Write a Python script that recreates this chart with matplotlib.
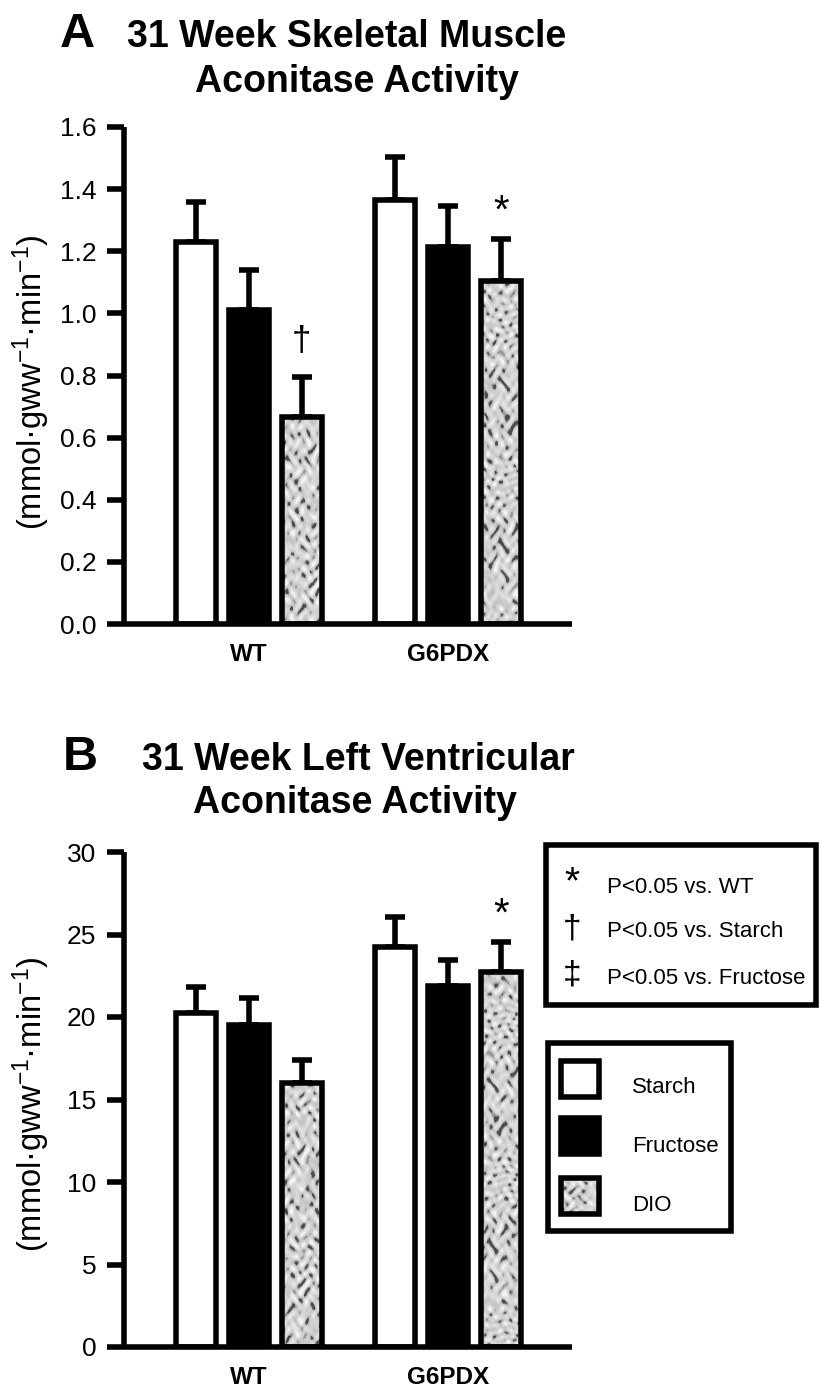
import numpy as np
import matplotlib
matplotlib.use("Agg")
import matplotlib.pyplot as plt
from matplotlib.patches import Rectangle

plt.rcParams['font.family'] = ['Liberation Sans', 'DejaVu Sans']
plt.rcParams['mathtext.fontset'] = 'custom'
plt.rcParams['mathtext.rm'] = 'Liberation Sans'
plt.rcParams['mathtext.it'] = 'Liberation Sans:italic'
plt.rcParams['mathtext.bf'] = 'Liberation Sans:bold'

# ---------------- data ----------------
genotypes = ['WT', 'G6PDX']
diets = ['Starch', 'Fructose', 'DIO']

# Panel A: skeletal muscle aconitase activity
skm_starch = [1.23, 1.365]
skm_fructose = [1.01, 1.215]
skm_dio = [0.665, 1.105]
skm_starch_sem = [0.13, 0.14]
skm_fructose_sem = [0.13, 0.13]
skm_dio_sem = [0.13, 0.135]
skm_yticks = [0.0, 0.2, 0.4, 0.6, 0.8, 1.0, 1.2, 1.4, 1.6]
skm_marks = [('DIO', 'WT', '\u2020'), ('DIO', 'G6PDX', '*')]

# Panel B: left ventricular aconitase activity
lv_starch = [20.25, 24.25]
lv_fructose = [19.5, 21.9]
lv_dio = [16.0, 22.75]
lv_starch_sem = [1.55, 1.8]
lv_fructose_sem = [1.65, 1.55]
lv_dio_sem = [1.4, 1.8]
lv_yticks = [0, 5, 10, 15, 20, 25, 30]
lv_marks = [('DIO', 'G6PDX', '*')]

sig_symbols = ['*', '\u2020', '\u2021']
sig_texts = ['P<0.05 vs. WT', 'P<0.05 vs. Starch', 'P<0.05 vs. Fructose']

ylabel = '(mmol\u00b7gww$^{-1}$\u00b7min$^{-1}$)'

# ---------------- style ----------------
W_PX, H_PX = 821, 1391
LW = 4.0
BAR_W = 0.2
OFFS = [-0.265, 0.0, 0.265]
FACES = ['white', 'black', None]


def texture(h, w, phase=0.0):
    yy, xx = np.mgrid[0:h, 0:w].astype(float)
    xx = xx + phase
    yy = yy + 1.7 * phase
    v = (np.sin(0.61 * xx + 2.3 * np.sin(0.29 * yy + 0.4 * np.sin(0.13 * xx))) +
         np.sin(0.53 * yy + 2.1 * np.sin(0.37 * xx + 0.5 * np.cos(0.17 * yy))) +
         0.8 * np.sin(0.23 * xx * np.cos(0.05 * yy) + 0.41 * yy + 1.8 * np.sin(0.19 * xx)))
    g = 0.82 + 0.05 * v
    g = np.where(v < -1.3, 0.60, g)
    g = np.where(v < -1.9, 0.30, g)
    g = np.where(v > 1.9, 0.95, g)
    return np.clip(g, 0, 1)


def fig_rect(px, py0, px1, py1):
    # pixel box (top-left origin) -> figure fraction [l, b, w, h]
    return [px / W_PX, 1 - py1 / H_PX, (px1 - px) / W_PX, (py1 - py0) / H_PX]


fig = plt.figure(figsize=(W_PX / 100, H_PX / 100), dpi=100)
axA = fig.add_axes(fig_rect(124, 127, 572, 624))
axB = fig.add_axes(fig_rect(124, 852, 572, 1347))


def draw_panel(ax, means, sems, yticks, fmt, marks, phase):
    ymax = yticks[-1]
    xg = np.arange(len(genotypes))
    for i, (m, s) in enumerate(zip(means, sems)):
        x = xg + OFFS[i]
        ax.errorbar(x, m, yerr=[np.zeros(len(m)), s], fmt='none', ecolor='black',
                    elinewidth=LW, capsize=7.5, capthick=LW, zorder=1.8)
        if FACES[i] is not None:
            ax.bar(x, m, BAR_W, color=FACES[i], edgecolor='black', linewidth=LW, zorder=2)
        else:
            bars = ax.bar(x, m, BAR_W, facecolor='none', edgecolor='black',
                          linewidth=LW, zorder=2.1)
            for j, b in enumerate(bars):
                img = texture(400, 40, phase + 37 * j)
                im = ax.imshow(img, extent=(b.get_x(), b.get_x() + b.get_width(), 0, ymax),
                               aspect='auto', cmap='gray', vmin=0, vmax=1,
                               interpolation='bilinear', zorder=1.9)
                im.set_clip_path(b)
    for diet, geno, sym in marks:
        i = diets.index(diet)
        g = genotypes.index(geno)
        top = means[i][g] + sems[i][g]
        if sym == '\u2020':
            off, fs = 19, 25
        else:
            off, fs = 12, 29
        ax.annotate(sym, xy=(g + OFFS[i], top), xytext=(0, off), textcoords='offset points',
                    ha='center', va='baseline', fontsize=fs)
    ax.set_xlim(-0.628, 1.622)
    ax.set_ylim(0, ymax)
    ax.set_yticks(yticks)
    ax.set_yticklabels([fmt.format(t) for t in yticks])
    ax.set_xticks(xg)
    ax.set_xticklabels(genotypes, fontweight='bold', fontsize=17.5)
    ax.tick_params(axis='x', length=0, pad=14)
    ax.tick_params(axis='y', length=12, width=LW, pad=8, labelsize=19)
    for sp in ['top', 'right']:
        ax.spines[sp].set_visible(False)
    for sp in ['left', 'bottom']:
        ax.spines[sp].set_linewidth(LW)
        ax.spines[sp].set_capstyle('butt')
    ax.set_facecolor('none')


draw_panel(axA, [skm_starch, skm_fructose, skm_dio],
           [skm_starch_sem, skm_fructose_sem, skm_dio_sem], skm_yticks, '{:.1f}', skm_marks, 0)
draw_panel(axB, [lv_starch, lv_fructose, lv_dio],
           [lv_starch_sem, lv_fructose_sem, lv_dio_sem], lv_yticks, '{:d}', lv_marks, 11)

# ---------------- overlay (titles, labels, legends) in pixel coordinates ----------------
lax = fig.add_axes([0, 0, 1, 1])
lax.set_xlim(0, W_PX)
lax.set_ylim(H_PX, 0)
lax.axis('off')

# panel letters and titles
lax.text(60, 47, 'A', fontsize=35, fontweight='bold', ha='left', va='baseline')
lax.text(347, 47, '31 Week Skeletal Muscle', fontsize=27, fontweight='bold', ha='center', va='baseline')
lax.text(357, 92, 'Aconitase Activity', fontsize=27, fontweight='bold', ha='center', va='baseline')
lax.text(63, 770, 'B', fontsize=35, fontweight='bold', ha='left', va='baseline')
lax.text(358, 770, '31 Week Left Ventricular', fontsize=27, fontweight='bold', ha='center', va='baseline')
lax.text(355, 813, 'Aconitase Activity', fontsize=27, fontweight='bold', ha='center', va='baseline')

# y labels
lax.text(31, 382, ylabel, rotation=90, fontsize=23.5, ha='center', va='center')
lax.text(31, 1104, ylabel, rotation=90, fontsize=23.5, ha='center', va='center')

# significance legend box
lax.add_patch(Rectangle((545.5, 844.5), 270, 160, facecolor='white', edgecolor='black', linewidth=LW))
sig_base = [893, 937, 984]
for sym, txt, yb in zip(sig_symbols, sig_texts, sig_base):
    fs = 28 if sym == '*' else 24
    lax.text(572, yb, sym, fontsize=fs, ha='center', va='baseline')
    lax.text(607, yb, txt, fontsize=16, ha='left', va='baseline')

# diet legend box
lax.add_patch(Rectangle((547.5, 1042.5), 183, 188, facecolor='white', edgecolor='black', linewidth=LW))
sw_top = [1058, 1115, 1175]
lab_base = [1093, 1152, 1211]
for i, (diet, yt, yb) in enumerate(zip(diets, sw_top, lab_base)):
    x0, x1 = 561, 599
    y0, y1 = yt + 3, yt + 42 - 3
    if FACES[i] is not None:
        lax.add_patch(Rectangle((x0, y0), x1 - x0, y1 - y0, facecolor=FACES[i],
                                edgecolor='black', linewidth=LW, zorder=3))
    else:
        r = Rectangle((x0, y0), x1 - x0, y1 - y0, facecolor='none',
                      edgecolor='black', linewidth=LW, zorder=3)
        lax.add_patch(r)
        im = lax.imshow(texture(40, 40, 5), extent=(x0, x1, y1, y0), aspect='auto',
                        cmap='gray', vmin=0, vmax=1, interpolation='bilinear', zorder=2)
        im.set_clip_path(r)
    lax.text(632, yb, diet, fontsize=16, ha='left', va='baseline')

lax.set_xlim(0, W_PX)
lax.set_ylim(H_PX, 0)

fig.savefig('out.png', dpi=100)
